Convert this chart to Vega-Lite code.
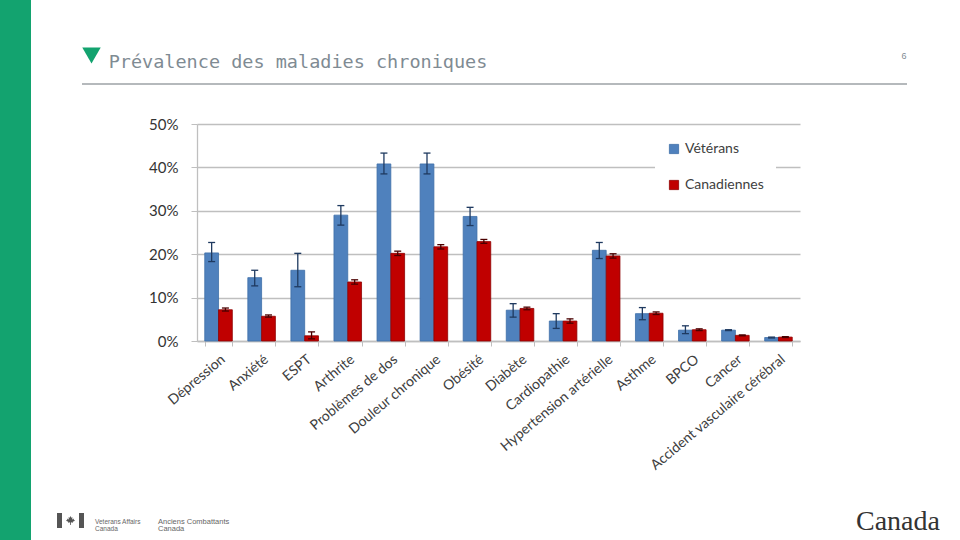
{
  "$schema": "https://vega.github.io/schema/vega-lite/v6.json",
  "padding": 0,
  "background": "white",
  "spacing": 0,
  "bounds": "flush",
  "data": {"values": [{"k": 1}]},
  "datasets": {
    "prev": [
      {"cat": "Dépression", "group": "Vétérans", "value": 0.203, "lo": 0.183, "hi": 0.227},
      {"cat": "Dépression", "group": "Canadiennes", "value": 0.072, "lo": 0.069, "hi": 0.076},
      {"cat": "Anxiété", "group": "Vétérans", "value": 0.146, "lo": 0.127, "hi": 0.163},
      {"cat": "Anxiété", "group": "Canadiennes", "value": 0.057, "lo": 0.055, "hi": 0.060},
      {"cat": "ESPT", "group": "Vétérans", "value": 0.163, "lo": 0.125, "hi": 0.202},
      {"cat": "ESPT", "group": "Canadiennes", "value": 0.012, "lo": 0.005, "hi": 0.021},
      {"cat": "Arthrite", "group": "Vétérans", "value": 0.290, "lo": 0.267, "hi": 0.312},
      {"cat": "Arthrite", "group": "Canadiennes", "value": 0.136, "lo": 0.131, "hi": 0.141},
      {"cat": "Problèmes de dos", "group": "Vétérans", "value": 0.408, "lo": 0.385, "hi": 0.433},
      {"cat": "Problèmes de dos", "group": "Canadiennes", "value": 0.202, "lo": 0.197, "hi": 0.207},
      {"cat": "Douleur chronique", "group": "Vétérans", "value": 0.408, "lo": 0.385, "hi": 0.433},
      {"cat": "Douleur chronique", "group": "Canadiennes", "value": 0.217, "lo": 0.212, "hi": 0.222},
      {"cat": "Obésité", "group": "Vétérans", "value": 0.287, "lo": 0.266, "hi": 0.308},
      {"cat": "Obésité", "group": "Canadiennes", "value": 0.229, "lo": 0.225, "hi": 0.234},
      {"cat": "Diabète", "group": "Vétérans", "value": 0.071, "lo": 0.055, "hi": 0.086},
      {"cat": "Diabète", "group": "Canadiennes", "value": 0.075, "lo": 0.072, "hi": 0.078},
      {"cat": "Cardiopathie", "group": "Vétérans", "value": 0.046, "lo": 0.029, "hi": 0.063},
      {"cat": "Cardiopathie", "group": "Canadiennes", "value": 0.046, "lo": 0.041, "hi": 0.051},
      {"cat": "Hypertension artérielle", "group": "Vétérans", "value": 0.209, "lo": 0.190, "hi": 0.227},
      {"cat": "Hypertension artérielle", "group": "Canadiennes", "value": 0.196, "lo": 0.191, "hi": 0.201},
      {"cat": "Asthme", "group": "Vétérans", "value": 0.063, "lo": 0.049, "hi": 0.077},
      {"cat": "Asthme", "group": "Canadiennes", "value": 0.064, "lo": 0.061, "hi": 0.067},
      {"cat": "BPCO", "group": "Vétérans", "value": 0.025, "lo": 0.017, "hi": 0.035},
      {"cat": "BPCO", "group": "Canadiennes", "value": 0.026, "lo": 0.024, "hi": 0.028},
      {"cat": "Cancer", "group": "Vétérans", "value": 0.025, "lo": 0.024, "hi": 0.026},
      {"cat": "Cancer", "group": "Canadiennes", "value": 0.013, "lo": 0.012, "hi": 0.014},
      {"cat": "Accident vasculaire cérébral", "group": "Vétérans", "value": 0.008, "lo": 0.007, "hi": 0.009},
      {"cat": "Accident vasculaire cérébral", "group": "Canadiennes", "value": 0.009, "lo": 0.008, "hi": 0.010}
    ]
  },
  "config": {
    "view": {"stroke": null},
    "concat": {"spacing": 0},
    "font": "Lato"
  },
  "hconcat": [
    {"width": 31, "height": 540, "mark": {"type": "rect", "fill": "#13a36f"}, "encoding": {}},
    {
      "spacing": 0,
      "bounds": "flush",
      "vconcat": [
        {"width": 10, "height": 40, "mark": {"type": "rect", "opacity": 0}, "encoding": {}},
        {
          "spacing": 0,
          "bounds": "flush",
          "hconcat": [
            {"width": 51, "height": 1, "mark": {"type": "rect", "opacity": 0}, "encoding": {}},
            {"width": 19, "height": 31, "mark": {"type": "point", "shape": "triangle-down", "size": 340, "filled": true, "fill": "#13a36f", "opacity": 1, "strokeWidth": 0}, "encoding": {}},
            {"width": 7, "height": 1, "mark": {"type": "rect", "opacity": 0}, "encoding": {}},
            {"width": 380, "height": 43, "mark": {"type": "text", "text": "Prévalence des maladies chroniques", "font": "DejaVu Sans Mono", "fontSize": 18.5, "fill": "#7f8b93", "align": "center", "baseline": "middle"}, "encoding": {}},
            {"width": 401, "height": 1, "mark": {"type": "rect", "opacity": 0}, "encoding": {}},
            {"width": 30, "height": 32, "mark": {"type": "text", "text": "6", "font": "Liberation Sans", "fontSize": 9, "fill": "#7f8b93", "align": "center", "baseline": "middle"}, "encoding": {}}
          ]
        },
        {"width": 10, "height": 43, "mark": {"type": "rect", "opacity": 0}, "encoding": {}},
        {
          "spacing": 0,
          "bounds": "flush",
          "hconcat": [
            {"width": 51, "height": 2, "mark": {"type": "rect", "opacity": 0}, "encoding": {}},
            {"width": 825, "height": 2, "mark": {"type": "rect", "fill": "#b5b9bc"}, "encoding": {}}
          ]
        },
        {"width": 10, "height": 41, "mark": {"type": "rect", "opacity": 0}, "encoding": {}},
        {
          "spacing": 0,
          "bounds": "flush",
          "hconcat": [
            {"width": 166, "height": 1, "mark": {"type": "rect", "opacity": 0}, "encoding": {}},
            {
              "width": 603,
              "height": 217,
              "data": {"name": "prev"},
              "encoding": {
                "x": {
                  "field": "cat",
                  "type": "nominal",
                  "sort": null,
                  "scale": {"paddingInner": 0.36, "paddingOuter": 0.18},
                  "axis": {
                    "title": null,
                    "labelAngle": -40,
                    "labelFont": "Lato",
                    "labelFontSize": 14,
                    "labelColor": "#404040",
                    "labelPadding": 6,
                    "labelLimit": 300,
                    "domainColor": "#bfbfbf",
                    "domainWidth": 1.3,
                    "tickColor": "#bfbfbf",
                    "tickBand": "extent",
                    "tickSize": 5
                  }
                },
                "xOffset": {"field": "group", "type": "nominal", "scale": {"domain": ["Vétérans", "Canadiennes"]}}
              },
              "layer": [
                {
                  "mark": {"type": "bar", "strokeWidth": 0.8},
                  "encoding": {
                    "y": {
                      "field": "value",
                      "type": "quantitative",
                      "scale": {"domain": [0, 0.5]},
                      "axis": {
                        "title": null,
                        "values": [0, 0.1, 0.2, 0.3, 0.4, 0.5],
                        "format": ".0%",
                        "grid": true,
                        "gridColor": "#bfbfbf",
                        "gridWidth": 1.3,
                        "domainColor": "#bfbfbf",
                        "domainWidth": 1.3,
                        "tickColor": "#bfbfbf",
                        "tickSize": 6,
                        "labelFont": "Lato",
                        "labelFontSize": 15,
                        "labelColor": "#333333",
                        "labelPadding": 13
                      }
                    },
                    "fill": {
                      "field": "group",
                      "type": "nominal",
                      "scale": {"domain": ["Vétérans", "Canadiennes"], "range": ["#4f81bd", "#c00000"]},
                      "legend": {
                        "orient": "none",
                        "legendX": 655,
                        "legendY": 130,
                        "title": null,
                        "fillColor": "white",
                        "padding": 12,
                        "rowPadding": 22,
                        "symbolType": "square",
                        "symbolSize": 85,
                        "symbolStrokeWidth": 0.8,
                        "labelFont": "Lato",
                        "labelFontSize": 14,
                        "labelColor": "#404040",
                        "labelOffset": 4
                      }
                    },
                    "stroke": {
                      "field": "group",
                      "type": "nominal",
                      "scale": {"domain": ["Vétérans", "Canadiennes"], "range": ["#3d6ea8", "#8e0000"]},
                      "legend": null
                    }
                  }
                },
                {
                  "mark": {"type": "rule", "strokeWidth": 1.3},
                  "encoding": {
                    "y": {"field": "lo", "type": "quantitative"},
                    "y2": {"field": "hi"},
                    "color": {
                      "field": "group",
                      "type": "nominal",
                      "scale": {"domain": ["Vétérans", "Canadiennes"], "range": ["#1f3a60", "#4a0000"]},
                      "legend": null
                    }
                  }
                },
                {
                  "mark": {"type": "point", "shape": "stroke", "size": 49, "strokeWidth": 1.3, "opacity": 1},
                  "encoding": {
                    "y": {"field": "hi", "type": "quantitative"},
                    "color": {"field": "group", "type": "nominal", "legend": null}
                  }
                },
                {
                  "mark": {"type": "point", "shape": "stroke", "size": 49, "strokeWidth": 1.3, "opacity": 1},
                  "encoding": {
                    "y": {"field": "lo", "type": "quantitative"},
                    "color": {"field": "group", "type": "nominal", "legend": null}
                  }
                }
              ]
            }
          ]
        },
        {"width": 10, "height": 389, "mark": {"type": "rect", "opacity": 0}, "encoding": {}},
        {
          "spacing": 0,
          "bounds": "flush",
          "hconcat": [
            {"width": 26, "height": 1, "mark": {"type": "rect", "opacity": 0}, "encoding": {}},
            {"width": 5, "height": 15, "mark": {"type": "rect", "fill": "#555555"}, "encoding": {}},
            {"width": 17, "height": 15, "mark": {"type": "point", "shape": "M0,-1L0.2,-0.6L0.45,-0.7L0.35,-0.2L0.8,-0.45L0.7,-0.2L1,0.05L0.5,0.3L0.55,0.5L0.1,0.4L0.08,1L-0.08,1L-0.1,0.4L-0.55,0.5L-0.5,0.3L-1,0.05L-0.7,-0.2L-0.8,-0.45L-0.35,-0.2L-0.45,-0.7L-0.2,-0.6Z", "size": 81, "filled": true, "fill": "#555555", "opacity": 1, "strokeWidth": 0}, "encoding": {}},
            {"width": 5, "height": 15, "mark": {"type": "rect", "fill": "#555555"}, "encoding": {}},
            {"width": 22, "height": 17, "mark": {"type": "text", "text": ["Veterans Affairs", "Canada"], "font": "Liberation Sans", "fontSize": 6.5, "lineHeight": 7.5, "fill": "#666666", "align": "left", "baseline": "middle"}, "encoding": {}},
            {"width": 104, "height": 17, "mark": {"type": "text", "text": ["Anciens Combattants", "Canada"], "font": "Liberation Sans", "fontSize": 7.5, "lineHeight": 7.5, "fill": "#666666", "align": "left", "baseline": "middle"}, "encoding": {}},
            {"width": 648, "height": 1, "mark": {"type": "rect", "opacity": 0}, "encoding": {}},
            {"width": 80, "height": 18, "mark": {"type": "text", "text": "Canada", "font": "Liberation Serif", "fontSize": 28, "fill": "#333333", "align": "center", "baseline": "middle"}, "encoding": {}}
          ]
        }
      ]
    }
  ]
}
